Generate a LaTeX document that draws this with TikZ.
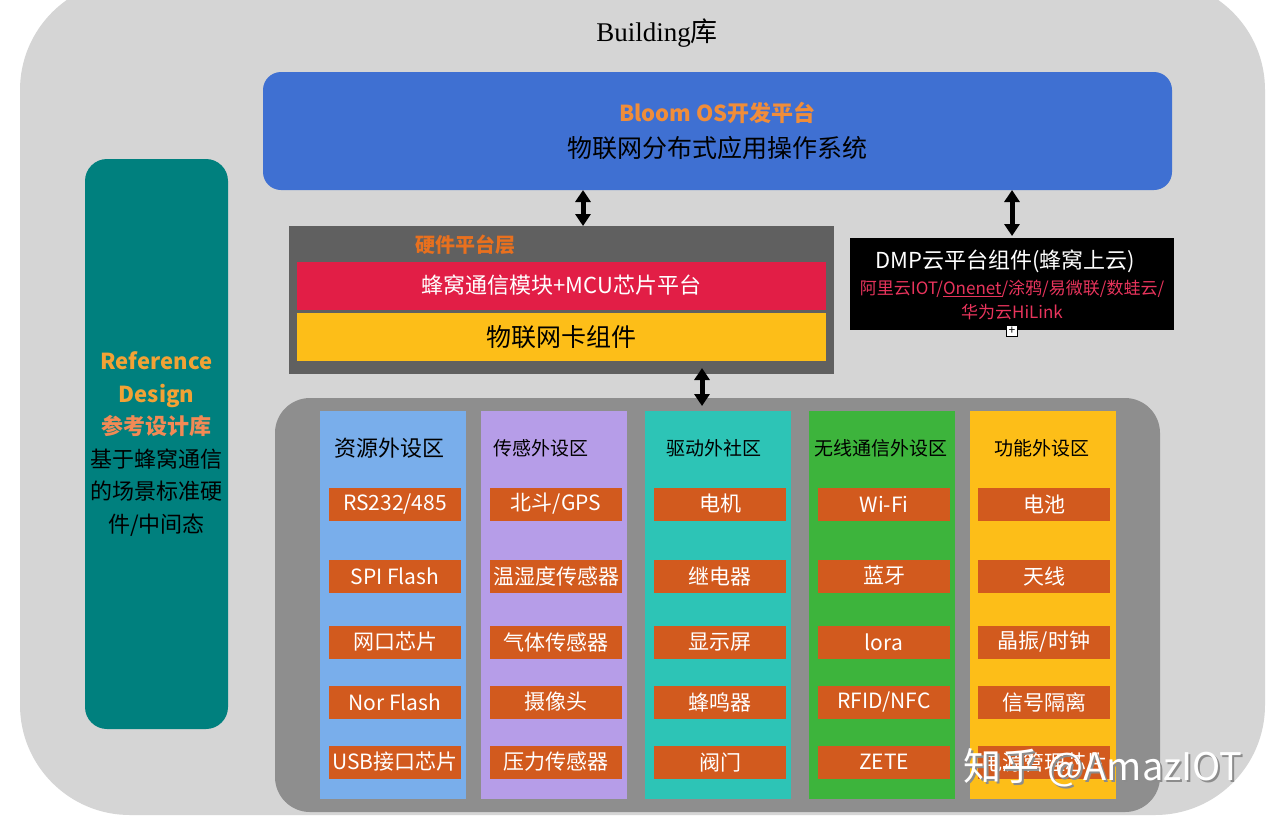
\documentclass[tikz,border=0pt]{standalone}
\usepackage{fontspec}
\setmainfont{Noto Sans CJK SC}
\newfontfamily\serifA{Liberation Serif}
\usepackage{tikz}
\usetikzlibrary{arrows.meta, positioning, calc}
\definecolor{bgGray}{HTML}{D5D5D5}
\definecolor{osBlue}{HTML}{3F70D2}
\definecolor{osOrange}{HTML}{F08D3A}
\definecolor{hwGray}{HTML}{606060}
\definecolor{hwOrange}{HTML}{E8701E}
\definecolor{mcuRed}{HTML}{E21E46}
\definecolor{simYellow}{HTML}{FDBE18}
\definecolor{dmpRed}{HTML}{E8345C}
\definecolor{refTeal}{HTML}{00807E}
\definecolor{refGold}{HTML}{F2A235}
\definecolor{refOrange}{HTML}{F28A55}
\definecolor{perGray}{HTML}{8E8E8E}
\definecolor{colBlue}{HTML}{79AEEB}
\definecolor{colPurple}{HTML}{B69DE8}
\definecolor{colTeal}{HTML}{2DC4B6}
\definecolor{colGreen}{HTML}{3DB43C}
\definecolor{colYellow}{HTML}{FDBE18}
\definecolor{itemOrange}{HTML}{D25A1E}
\newcommand{\fsz}[2]{\fontsize{#1}{#2}\selectfont}

\begin{document}
\begin{tikzpicture}[
  x=1pt, y=-1pt,
  every node/.style={inner sep=0pt, outer sep=0pt},
  column/.style={minimum width=146, minimum height=388},
  colhead/.style={font=\fsz{19}{22}},
  item/.style={fill=itemOrange, minimum width=132, minimum height=33, text=white, font=\fsz{21}{24}},
  band/.style={minimum width=529, minimum height=48},
  dbl/.style={{Triangle[width=15pt,length=12pt]}-{Triangle[width=15pt,length=12pt]}, line width=5pt}
]
  \useasboundingbox (0,0) rectangle (1280,820);
  \fill[white] (0,0) rectangle (1280,820);
  \begin{scope}
    \clip (0,0) rectangle (1280,820);
    \fill[bgGray, rounded corners=110] (20,-20) rectangle (1265,815);
  \end{scope}

  \node[font=\fsz{27}{30}] (title) at (657,33) {{\serifA Building}库};

  \node[fill=osBlue, rounded corners=18, minimum width=909, minimum height=118,
        align=center, font=\fsz{25}{36}] (os) at (717.5,131)
    {{\color{osOrange}\fsz{22}{36}\bfseries Bloom OS开发平台}\\物联网分布式应用操作系统};

  \node[fill=hwGray, minimum width=545, minimum height=148] (hw) at (561.5,300) {};
  \node[text=hwOrange, font=\fsz{20}{24}\bfseries] (hwlbl) at (465,245) {硬件平台层};
  \node[band, fill=mcuRed, text=white, font=\fsz{22}{26}] (mcu) at (561.5,285.5) {蜂窝通信模块+MCU芯片平台};
  \node[band, fill=simYellow, font=\fsz{25}{28}] (sim) at (561.5,337) {物联网卡组件};

  \node[fill=black, minimum width=324, minimum height=92] (dmp) at (1012,284) {};
  \node[text=white, font=\fsz{22}{26}] (dmpT) at (1005,261) {DMP云平台组件(蜂窝上云)};
  \node[text=dmpRed, font=\fsz{17}{20}] (dmpA) at (1012,289) {阿里云IOT/\underline{Onenet}/涂鸦/易微联/数蛙云/};
  \node[text=dmpRed, font=\fsz{17}{20}] (dmpB) at (1012,312) {华为云HiLink};
  \node[draw=black, fill=white, line width=1pt, minimum size=11, font=\fsz{12}{12}] (dmpX) at (1012,331) {+};

  \node[fill=refTeal, rounded corners=22, minimum width=143, minimum height=570,
        align=center, font=\fsz{22}{32.5}] (ref) at (156.5,444)
    {{\color{refGold}\bfseries Reference}\\{\color{refGold}\bfseries Design}\\{\color{refOrange}\bfseries 参考设计库}\\
     基于蜂窝通信\\的场景标准硬\\件/中间态};

  \node[fill=perGray, rounded corners=35, minimum width=885, minimum height=414] (per) at (717.5,605) {};

  \foreach \col/\cx/\clr/\hd/\hx/\hs in {1/393/colBlue/资源外设区/389/22, 2/553.5/colPurple/传感外设区/541/19,
      3/718/colTeal/驱动外社区/714/19, 4/882/colGreen/无线通信外设区/881/19, 5/1043/colYellow/功能外设区/1042/19} {
    \node[column, fill=\clr] (col\col) at (\cx,605) {};
    \node[colhead, font=\fsz{\hs}{24}] (hd\col) at (\hx,448) {\hd};
  }

  \foreach \col/\ix/\ia/\ib/\ic/\id/\ie in {
      1/395/{RS232/485}/SPI Flash/网口芯片/Nor Flash/USB接口芯片,
      2/556/{北斗/GPS}/温湿度传感器/气体传感器/摄像头/压力传感器,
      3/720/电机/继电器/显示屏/蜂鸣器/阀门,
      4/884/Wi-Fi/蓝牙/lora/{RFID/NFC}/ZETE,
      5/1044/电池/天线/{晶振/时钟}/信号隔离/电源管理芯片} {
    \foreach \r/\ry/\lbl in {1/504/\ia, 2/576/\ib, 3/642/\ic, 4/702/\id, 5/762/\ie} {
      \node[item] (it\col\r) at (\ix,\ry) {\lbl};
    }
  }

  \coordinate (a1) at (583,0);
  \coordinate (a2) at (1012,0);
  \coordinate (a3) at (702,0);
  \draw[dbl] (os.south -| a1) -- (hw.north -| a1);
  \draw[dbl, shorten >=2pt] (os.south -| a2) -- (dmp.north -| a2);
  \draw[dbl, shorten <=-6pt, shorten >=-8pt] (hw.south -| a3) -- (per.north -| a3);

  \node[text=black!45, font=\fsz{38}{40}] (wmS) at (1105,770) {知乎 @AmazIOT};
  \node[text=white, font=\fsz{38}{40}] (wm) at (1103,768) {知乎 @AmazIOT};
\end{tikzpicture}
\end{document}
